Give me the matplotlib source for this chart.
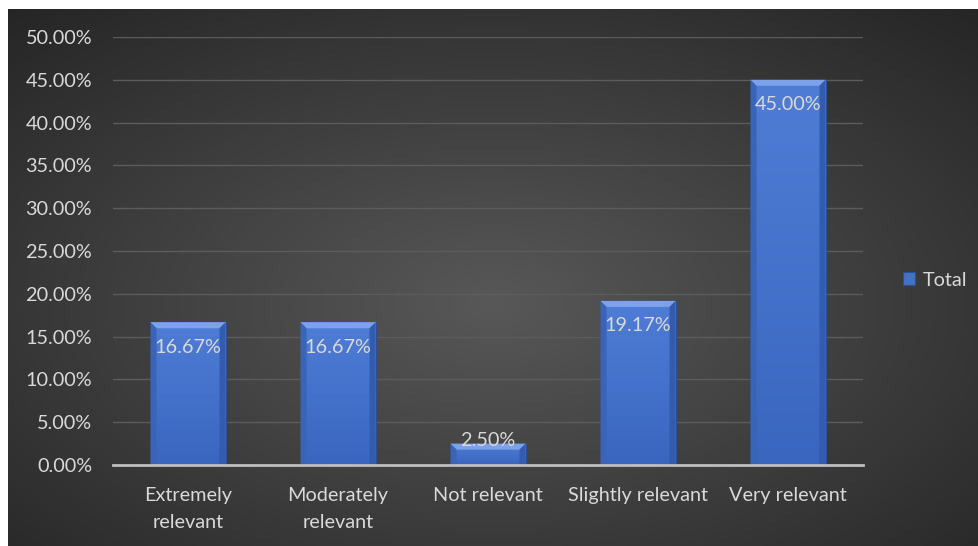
import numpy as np
import matplotlib
matplotlib.use('Agg')
import matplotlib.pyplot as plt
from matplotlib.patches import Polygon
from matplotlib.ticker import PercentFormatter

categories = ['Extremely\nrelevant', 'Moderately\nrelevant', 'Not relevant', 'Slightly relevant', 'Very relevant']
totals = [0.1667, 0.1667, 0.025, 0.1917, 0.45]
yticks = [0, 0.05, 0.10, 0.15, 0.20, 0.25, 0.30, 0.35, 0.40, 0.45, 0.50]

plt.rcParams['font.family'] = ['Lato', 'DejaVu Sans']
txt = '#d9d9d9'
fs = 14.3

W, H = 979, 546
fig = plt.figure(figsize=(W / 100, H / 100), dpi=100)
fig.patch.set_facecolor('white')

# dark radial background
bg = fig.add_axes([8 / W, 0, 1 - 8 / W, (H - 9) / H], zorder=0)
yy, xx = np.mgrid[0:1:300j, 0:1:500j]
r = np.sqrt(((xx - 0.5) / 0.75) ** 2 + ((yy - 0.45) / 0.75) ** 2)
r = np.clip(r, 0, 1)
c0, c1 = np.array([0x58, 0x58, 0x58]) / 255, np.array([0x25, 0x25, 0x25]) / 255
img = c0[None, None, :] * (1 - r[..., None]) + c1[None, None, :] * r[..., None]
bg.imshow(img, extent=[0, 1, 0, 1], aspect='auto', origin='lower')
bg.axis('off')

ax = fig.add_axes([113 / W, (H - 465) / H, 750 / W, 428 / H], zorder=1)
ax.set_facecolor('none')

x = np.arange(len(categories))
bars = ax.bar(x, totals, width=0.5, color='#4472c4', edgecolor='#2c4f96', linewidth=0.8, zorder=3)

# vertical gradient + top bevel on each bar
grad = np.linspace(0, 1, 100)[:, None]
cmap = matplotlib.colors.LinearSegmentedColormap.from_list('b', ['#3a66c0', '#4f7dd6'])
for b, v in zip(bars, totals):
    x0, w = b.get_x(), b.get_width()
    im = ax.imshow(grad, extent=[x0, x0 + w, 0, v], aspect='auto', origin='lower', cmap=cmap, zorder=3.1)
    im.set_clip_path(b)
    bh = 0.007
    dx = 0.04
    ax.add_patch(Polygon([[x0, v], [x0 + w, v], [x0 + w - dx, v - bh], [x0 + dx, v - bh]],
                         closed=True, facecolor='#7da2ea', edgecolor='none', zorder=3.2))
    ax.add_patch(Polygon([[x0, v], [x0 + dx, v - bh], [x0 + dx, 0], [x0, 0]],
                         closed=True, facecolor='#3a64b8', edgecolor='none', zorder=3.2))
    ax.add_patch(Polygon([[x0 + w, v], [x0 + w - dx, v - bh], [x0 + w - dx, 0], [x0 + w, 0]],
                         closed=True, facecolor='#345cae', edgecolor='none', zorder=3.2))
    ly = v - 0.029 if v > 0.05 else v + 0.004
    ax.text(b.get_x() + w / 2, ly, f'{v * 100:.2f}%', ha='center', va='center',
            color=txt, fontsize=fs, zorder=5)

ax.set_xlim(-0.5, len(categories) - 0.5)
ax.set_ylim(0, 0.5)
ax.set_yticks(yticks)
ax.yaxis.set_major_formatter(PercentFormatter(1.0, decimals=2))
ax.set_xticks(x)
ax.set_xticklabels(categories, linespacing=1.7)
ax.tick_params(axis='y', length=0, pad=15, colors=txt, labelsize=fs)
ax.tick_params(axis='x', length=0, pad=16, colors=txt, labelsize=fs)
ax.grid(axis='y', color='#5c5c5c', linewidth=1, zorder=0)
ax.set_axisbelow(True)
for s in ['top', 'right', 'left']:
    ax.spines[s].set_visible(False)
ax.spines['bottom'].set_color('#bfbfbf')
ax.spines['bottom'].set_linewidth(2)
ax.spines['bottom'].set_zorder(4)

leg = fig.legend([bars[0]], ['Total'], loc='center left', bbox_to_anchor=(885 / W, 1 - 280 / H),
                 frameon=False, handlelength=0.6, handleheight=0.6, handletextpad=0.4,
                 fontsize=fs, labelcolor=txt)

fig.savefig('out.png', dpi=100, facecolor=fig.get_facecolor())
